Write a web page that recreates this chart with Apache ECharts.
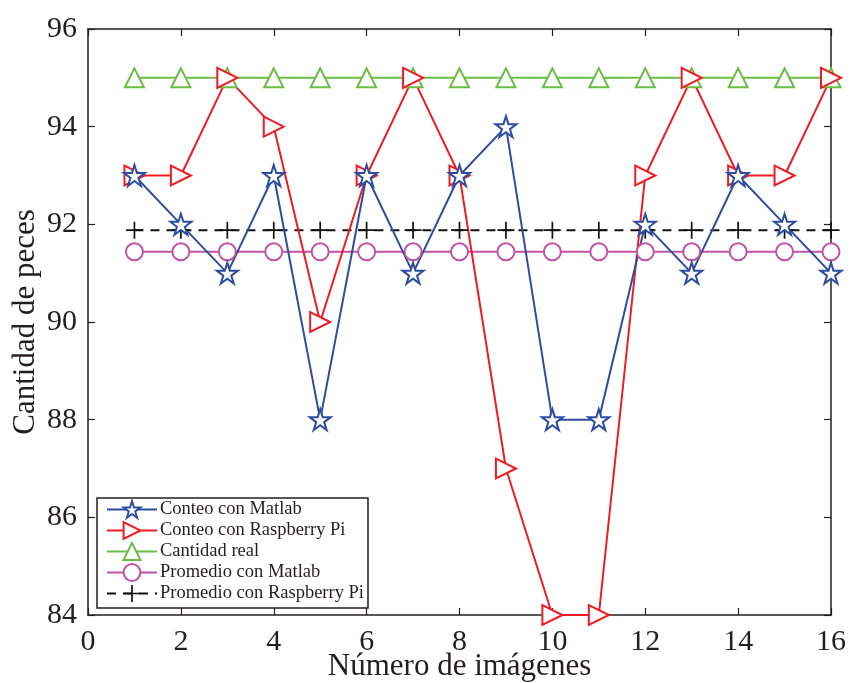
<!DOCTYPE html>
<html>
<head>
<meta charset="utf-8">
<script src="https://cdn.jsdelivr.net/npm/echarts@6/dist/echarts.min.js"></script>
<style>
  html, body { margin: 0; padding: 0; background: #fff; }
  #chart { width: 855px; height: 683px; }
</style>
</head>
<body>
<div id="chart"></div>
<script>
// Image index (1..16)
const imagenes = [1, 2, 3, 4, 5, 6, 7, 8, 9, 10, 11, 12, 13, 14, 15, 16];

// Fish counts per image
const conteoMatlab    = [93, 92, 91, 93, 88, 93, 91, 93, 94, 88, 88, 92, 91, 93, 92, 91];
const conteoRaspberry = [93, 93, 95, 94, 90, 93, 95, 93, 87, 84, 84, 93, 95, 93, 93, 95];
const cantidadReal    = [95, 95, 95, 95, 95, 95, 95, 95, 95, 95, 95, 95, 95, 95, 95, 95];
const promedioMatlab    = [91.44, 91.44, 91.44, 91.44, 91.44, 91.44, 91.44, 91.44, 91.44, 91.44, 91.44, 91.44, 91.44, 91.44, 91.44, 91.44];
const promedioRaspberry = [91.88, 91.88, 91.88, 91.88, 91.88, 91.88, 91.88, 91.88, 91.88, 91.88, 91.88, 91.88, 91.88, 91.88, 91.88, 91.88];

// Axis ticks
const xTicks = { min: 0, max: 16, step: 2 };
const yTicks = { min: 84, max: 96, step: 2 };

const pares = arr => arr.map((v, i) => [imagenes[i], v]);

const FONT = '"Liberation Serif", "Times New Roman", serif';
const INK = '#231f20';

const STAR = 'path://M50,0 L61.8,36.2 L100,36.2 L69.1,58.6 L80.9,95.1 L50,72.7 L19.1,95.1 L30.9,58.6 L0,36.2 L38.2,36.2 Z';
const PLUS = 'path://M45,0 H55 V45 H100 V55 H55 V100 H45 V55 H0 V45 H45 Z';

function serie(name, data, color, symbol, size, itemStyle, extra) {
  return Object.assign({
    name: name,
    type: 'line',
    data: pares(data),
    symbol: symbol,
    symbolSize: size,
    showAllSymbol: true,
    lineStyle: { color: color, width: 2 },
    itemStyle: itemStyle,
    emphasis: { disabled: true },
    animation: false
  }, extra || {});
}

const chart = echarts.init(document.getElementById('chart'));

const axisCommon = {
  axisLine: { show: true, onZero: false, lineStyle: { color: INK, width: 1.5 } },
  axisTick: { show: true, inside: true, length: 7, lineStyle: { color: INK, width: 1.2 } },
  splitLine: { show: false }
};

chart.setOption({
  backgroundColor: '#fff',
  grid: { left: 88, right: 24, top: 29, bottom: 68, containLabel: false, outerBoundsMode: 'none' },
  xAxis: [
    Object.assign({
      type: 'value', min: xTicks.min, max: xTicks.max, interval: xTicks.step,
      position: 'bottom',
      name: 'Número de imágenes', nameLocation: 'middle', nameGap: 36, nameMoveOverlap: false,
      nameTextStyle: { fontFamily: FONT, fontSize: 31, color: INK },
      axisLabel: { fontFamily: FONT, fontSize: 30, color: INK, margin: 12 }
    }, axisCommon),
    Object.assign({
      type: 'value', min: xTicks.min, max: xTicks.max, interval: xTicks.step,
      position: 'top', axisLabel: { show: false }
    }, axisCommon)
  ],
  yAxis: [
    Object.assign({
      type: 'value', min: yTicks.min, max: yTicks.max, interval: yTicks.step,
      position: 'left',
      name: 'Cantidad de peces', nameLocation: 'middle', nameGap: 47, nameMoveOverlap: false,
      nameTextStyle: { fontFamily: FONT, fontSize: 31, color: INK },
      axisLabel: { fontFamily: FONT, fontSize: 30, color: INK, margin: 11 }
    }, axisCommon),
    Object.assign({
      type: 'value', min: yTicks.min, max: yTicks.max, interval: yTicks.step,
      position: 'right', axisLabel: { show: false }
    }, axisCommon)
  ],
  legend: {
    orient: 'vertical',
    left: 97, top: 498,
    padding: [1, 4, 4, 9],
    itemGap: 0,
    itemWidth: 50, itemHeight: 21,
    backgroundColor: '#fff',
    borderColor: INK, borderWidth: 1.5,
    textStyle: { fontFamily: FONT, fontSize: 18.5, lineHeight: 21, color: INK, padding: [0, 0, 0, -2] },
    data: ['Conteo con Matlab', 'Conteo con Raspberry Pi', 'Cantidad real', 'Promedio con Matlab', 'Promedio con Raspberry Pi']
  },
  series: [
    serie('Cantidad real', cantidadReal, '#6cbd45', 'emptyTriangle', 19,
      { color: '#6cbd45', borderWidth: 2 }),
    serie('Promedio con Matlab', promedioMatlab, '#c253a2', 'emptyCircle', 17,
      { color: '#c253a2', borderWidth: 2 }),
    serie('Promedio con Raspberry Pi', promedioRaspberry, '#111', PLUS, 17,
      { color: '#111', borderWidth: 0 },
      { lineStyle: { color: '#111', width: 2, type: [9, 7] } }),
    serie('Conteo con Raspberry Pi', conteoRaspberry, '#ee1c25', 'emptyTriangle', 20,
      { color: '#ee1c25', borderWidth: 2 }, { symbolRotate: -90 }),
    serie('Conteo con Matlab', conteoMatlab, '#2e4da0', STAR, 21,
      { color: '#fff', borderColor: '#2e4da0', borderWidth: 2 })
  ]
});
</script>
</body>
</html>
